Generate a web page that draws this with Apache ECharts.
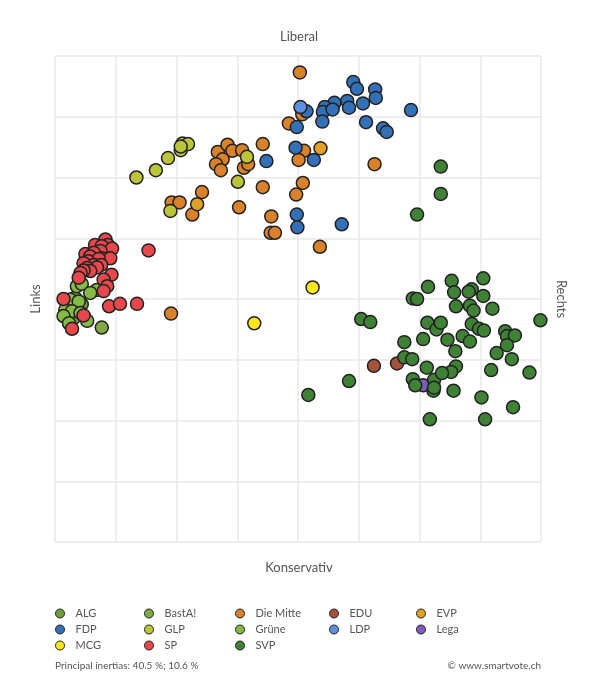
<!DOCTYPE html>
<html>
<head>
<meta charset="utf-8">
<script src="https://cdn.jsdelivr.net/npm/echarts@6/dist/echarts.min.js"></script>
<style>
  html, body { margin: 0; padding: 0; background: #fff; }
  #chart { width: 598px; height: 680px; }
</style>
</head>
<body>
<div id="chart"></div>
<script>
// positions on the two principal axes (x: links -> rechts, y: konservativ -> liberal)
const ALG = [[-3.67, 0.02], [-3.72, -0.09], [-3.69, -0.31], [-3.56, -0.09]];
const BastA = [[-3.23, -0.47]];
const DieMitte = [
  [-1.32, 2.42], [-1.16, 2.54], [-1.08, 2.44], [-1.24, 2.30], [-1.35, 2.22], [-1.27, 2.12],
  [-0.92, 2.45], [-0.89, 2.16], [-0.82, 2.22], [-0.58, 2.55], [-0.58, 1.84], [-1.58, 1.76],
  [-2.08, 1.59], [-1.95, 1.59], [-1.74, 1.39], [-0.97, 1.51], [-0.44, 1.36], [-0.45, 1.09],
  [-0.38, 1.09], [-2.09, -0.24], [0.03, 3.73], [-0.15, 2.89], [0.07, 3.04], [0.10, 2.44],
  [0.01, 2.29], [1.26, 2.22], [0.08, 1.91], [-0.03, 1.72], [0.36, 0.86]
];
const EDU = [[1.25, -1.10], [1.63, -1.06]];
const EVP = [[-1.66, 1.56], [0.37, 2.48]];
const FDP = [
  [0.91, 3.57], [0.97, 3.46], [1.27, 3.45], [1.28, 3.31], [0.81, 3.26], [0.84, 3.15],
  [0.60, 3.23], [0.44, 3.16], [0.41, 3.08], [0.57, 3.12], [0.14, 3.09], [0.40, 2.92],
  [-0.02, 2.83], [1.07, 3.22], [1.12, 2.91], [1.40, 2.81], [1.46, 2.75], [1.86, 3.11],
  [-0.04, 2.49], [0.26, 2.29], [-0.52, 2.27], [-0.02, 1.39], [-0.01, 1.18], [0.72, 1.23]
];
const GLP = [
  [-2.66, 2.00], [-2.34, 2.12], [-2.14, 2.32], [-1.93, 2.45], [-1.90, 2.56], [-1.81, 2.55],
  [-1.93, 2.51], [-2.10, 1.45], [-0.99, 1.93], [-0.84, 2.34]
];
const Gruene = [
  [-3.64, 0.21], [-3.56, 0.25], [-3.31, 0.15], [-3.42, 0.10], [-3.75, -0.01], [-3.61, -0.04],
  [-3.83, -0.18], [-3.72, -0.20], [-3.58, -0.23], [-3.86, -0.28], [-3.77, -0.40], [-3.47, -0.36]
];
const LDP = [[0.04, 3.16]];
const Lega = [[2.06, -1.42]];
const MCG = [[-0.72, -0.40], [0.24, 0.19]];
const SP = [
  [-3.17, 0.98], [-3.13, 0.89], [-3.34, 0.89], [-3.23, 0.87], [-3.06, 0.83], [-3.25, 0.79],
  [-3.50, 0.74], [-3.36, 0.76], [-3.42, 0.70], [-3.23, 0.67], [-3.09, 0.67], [-3.28, 0.66],
  [-3.45, 0.62], [-3.36, 0.56], [-3.24, 0.56], [-3.53, 0.59], [-3.31, 0.52], [-3.47, 0.51],
  [-3.42, 0.46], [-3.53, 0.47], [-3.58, 0.43], [-3.07, 0.40], [-3.20, 0.32], [-3.61, 0.35],
  [-3.14, 0.21], [-3.20, 0.13], [-3.86, 0.00], [-3.11, -0.12], [-2.93, -0.08], [-3.53, -0.27],
  [-3.72, -0.49], [-2.46, 0.80], [-2.65, -0.08]
];
const SVP = [
  [2.35, 2.18], [2.35, 1.73], [1.96, 1.39], [2.14, 0.20], [1.89, 0.01], [1.96, 0.00],
  [1.04, -0.33], [1.19, -0.38], [2.13, -0.39], [2.28, -0.50], [2.35, -0.39], [1.75, -0.71],
  [2.06, -0.66], [1.75, -0.96], [1.88, -0.99], [2.12, -1.13], [1.89, -1.32], [1.93, -1.42],
  [2.24, -1.33], [2.23, -1.51], [0.84, -1.35], [0.17, -1.58], [2.17, -1.98], [3.05, 0.34],
  [2.53, 0.30], [2.57, 0.11], [2.86, 0.16], [2.81, 0.12], [3.05, 0.05], [2.60, -0.12],
  [2.83, -0.11], [2.89, -0.19], [3.20, -0.16], [3.99, -0.35], [2.86, -0.41], [2.98, -0.49],
  [3.06, -0.52], [2.71, -0.61], [2.83, -0.70], [3.41, -0.53], [3.44, -0.61], [3.57, -0.60],
  [2.46, -0.67], [2.59, -0.86], [3.27, -0.89], [3.44, -0.76], [3.52, -0.99], [2.60, -1.11],
  [2.52, -1.20], [2.37, -1.22], [3.18, -1.17], [3.81, -1.21], [2.24, -1.46], [2.56, -1.51],
  [3.02, -1.62], [3.54, -1.78], [3.08, -1.98]
];

const parties = [
  { name: 'ALG', data: ALG, color: '#6f9e3c' },
  { name: 'BastA!', data: BastA, color: '#7ea944' },
  { name: 'Die Mitte', data: DieMitte, color: '#d9822b' },
  { name: 'EDU', data: EDU, color: '#a5523c' },
  { name: 'EVP', data: EVP, color: '#e1a128' },
  { name: 'FDP', data: FDP, color: '#3470b8' },
  { name: 'GLP', data: GLP, color: '#bcc43a' },
  { name: 'Grüne', data: Gruene, color: '#84ba45' },
  { name: 'LDP', data: LDP, color: '#5c8fe0' },
  { name: 'Lega', data: Lega, color: '#7e5cc0' },
  { name: 'MCG', data: MCG, color: '#ffe81a' },
  { name: 'SP', data: SP, color: '#e8474c' },
  { name: 'SVP', data: SVP, color: '#3f8236' }
];

// legend columns, read row by row in the picture
const legendColumns = [
  ['ALG', 'FDP', 'MCG'],
  ['BastA!', 'GLP', 'SP'],
  ['Die Mitte', 'Grüne', 'SVP'],
  ['EDU', 'LDP'],
  ['EVP', 'Lega']
];
const legendLeft = [55, 144, 235, 329, 416];

const font = 'Lato, "Noto Sans", sans-serif';
const textColor = '#555';

const chart = echarts.init(document.getElementById('chart'));

const axisCommon = {
  type: 'value',
  min: -4,
  max: 4,
  interval: 1,
  axisLine: { show: false },
  axisTick: { show: false },
  axisLabel: { show: false },
  splitLine: { show: true, lineStyle: { color: '#e8e8e8', width: 1.5 } }
};

chart.setOption({
  animation: false,
  textStyle: { fontFamily: font },
  grid: { left: 55, top: 56, width: 486, height: 486 },
  xAxis: Object.assign({}, axisCommon),
  yAxis: Object.assign({}, axisCommon),
  legend: legendColumns.map(function (col, i) {
    return {
      data: col,
      orient: 'vertical',
      left: legendLeft[i],
      top: 608,
      padding: 0,
      itemWidth: 9,
      itemHeight: 9,
      itemGap: 5,
      icon: 'circle',
      selectedMode: false,
      itemStyle: { borderWidth: 1 },
      textStyle: { color: textColor, fontSize: 11, fontFamily: font, padding: [0, 0, 0, 6] }
    };
  }),
  series: parties.map(function (p) {
    return {
      name: p.name,
      type: 'scatter',
      data: p.data,
      symbolSize: 13,
      itemStyle: { color: p.color, borderColor: '#222', borderWidth: 1.5, opacity: 1 }
    };
  }),
  graphic: [
    { type: 'text', left: 'center', top: 30, style: { text: 'Liberal', fill: textColor, font: '13px ' + font } },
    { type: 'text', left: 'center', top: 561, style: { text: 'Konservativ', fill: textColor, font: '13px ' + font } },
    { type: 'text', x: 36, y: 299, rotation: Math.PI / 2,
      style: { text: 'Links', fill: textColor, font: '13px ' + font, align: 'center', verticalAlign: 'middle' } },
    { type: 'text', x: 561, y: 299, rotation: -Math.PI / 2,
      style: { text: 'Rechts', fill: textColor, font: '13px ' + font, align: 'center', verticalAlign: 'middle' } },
    { type: 'text', left: 55, top: 661, style: { text: 'Principal inertias: 40.5 %; 10.6 %', fill: textColor, font: '10px ' + font } },
    { type: 'text', right: 57, top: 661, style: { text: '© www.smartvote.ch', fill: textColor, font: '10px ' + font } }
  ]
});
</script>
</body>
</html>
